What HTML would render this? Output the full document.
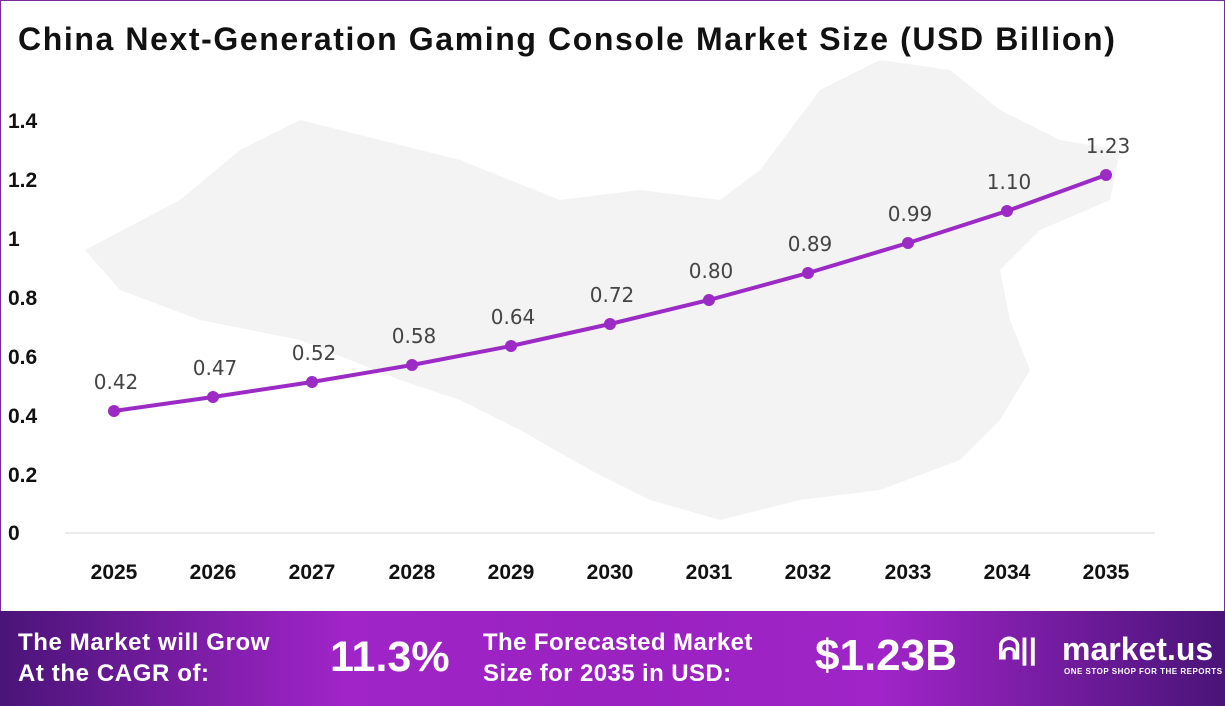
<!DOCTYPE html>
<html><head><meta charset="utf-8"><style>
body{margin:0;width:1225px;height:706px;overflow:hidden;background:#fff;font-family:"Liberation Sans",sans-serif;position:relative}
.frame{position:absolute;left:0;top:0;width:1223px;height:704px;border:1px solid #7a2a9a}
.title{position:absolute;left:18px;top:21px;font-size:32px;font-weight:bold;color:#111;letter-spacing:1.6px;white-space:nowrap}
.foot{position:absolute;left:0;top:611px;width:1225px;height:95px;background:linear-gradient(90deg,#4a1478 0%,#a024c8 28%,#9a22c0 50%,#a024c8 72%,#4a1478 100%);color:#fff;font-weight:bold}
.foot div{position:absolute;white-space:nowrap}
</style></head><body>
<div class="frame"></div>
<svg width="1225" height="706" style="position:absolute;left:0;top:0">
<path d="M85,250 L180,200 L240,150 L300,120 L380,140 L460,160 L560,200 L640,190 L720,200 L760,170 L820,90 L880,60 L950,70 L1000,110 L1060,140 L1120,150 L1110,200 L1040,230 L1000,270 L1010,320 L1030,370 L1000,420 L960,460 L880,490 L800,500 L720,520 L650,500 L590,470 L520,430 L460,400 L400,380 L300,340 L200,320 L120,290 Z" fill="#f3f3f3"/>
<line x1="65" y1="533" x2="1155" y2="533" stroke="#d9d9d9" stroke-width="1"/>
<g font-size="21" font-weight="bold" fill="#111" text-anchor="start">
<text x="8" y="540">0</text><text x="8" y="482">0.2</text><text x="8" y="423">0.4</text><text x="8" y="364">0.6</text><text x="8" y="305">0.8</text><text x="8" y="246">1</text><text x="8" y="187">1.2</text><text x="8" y="128">1.4</text>
</g>
<g font-size="21" font-weight="bold" fill="#111" text-anchor="middle">
<text x="114" y="579">2025</text><text x="213" y="579">2026</text><text x="312" y="579">2027</text><text x="412" y="579">2028</text><text x="511" y="579">2029</text><text x="610" y="579">2030</text><text x="709" y="579">2031</text><text x="808" y="579">2032</text><text x="908" y="579">2033</text><text x="1007" y="579">2034</text><text x="1106" y="579">2035</text>
</g>
<polyline fill="none" stroke="#9b2bc4" stroke-width="4" points="114,411 213,397 312,382 412,365 511,346 610,324 709,300 808,273 908,243 1007,211 1106,175"/>
<g fill="#9b2bc4">
<circle cx="114" cy="411" r="6"/><circle cx="213" cy="397" r="6"/><circle cx="312" cy="382" r="6"/><circle cx="412" cy="365" r="6"/><circle cx="511" cy="346" r="6"/><circle cx="610" cy="324" r="6"/><circle cx="709" cy="300" r="6"/><circle cx="808" cy="273" r="6"/><circle cx="908" cy="243" r="6"/><circle cx="1007" cy="211" r="6"/><circle cx="1106" cy="175" r="6"/>
</g>
<g font-size="20" fill="#444" text-anchor="middle" font-family="DejaVu Sans, sans-serif">
<text x="116" y="389">0.42</text><text x="215" y="375">0.47</text><text x="314" y="360">0.52</text><text x="414" y="343">0.58</text><text x="513" y="324">0.64</text><text x="612" y="302">0.72</text><text x="711" y="278">0.80</text><text x="810" y="251">0.89</text><text x="910" y="221">0.99</text><text x="1009" y="189">1.10</text><text x="1108" y="153">1.23</text>
</g>
</svg>
<div class="title">China Next-Generation Gaming Console Market Size (USD Billion)</div>
<div class="foot">
<div style="left:18px;top:16px;font-size:24px;line-height:31px;letter-spacing:0.6px">The Market will Grow<br>At the CAGR of:</div>
<div style="left:330px;top:22px;font-size:43px">11.3%</div>
<div style="left:483px;top:16px;font-size:24px;line-height:31px;letter-spacing:0.4px">The Forecasted Market<br>Size for 2035 in USD:</div>
<div style="left:815px;top:20px;font-size:44px">$1.23B</div>
<div style="left:998px;top:22px;font-size:30px">ᕱ|| </div>
<div style="left:1062px;top:20px;font-size:32px">market.us</div>
<div style="left:1064px;top:56px;font-size:8px;letter-spacing:0.5px">ONE STOP SHOP FOR THE REPORTS</div>
</div>
</body></html>
